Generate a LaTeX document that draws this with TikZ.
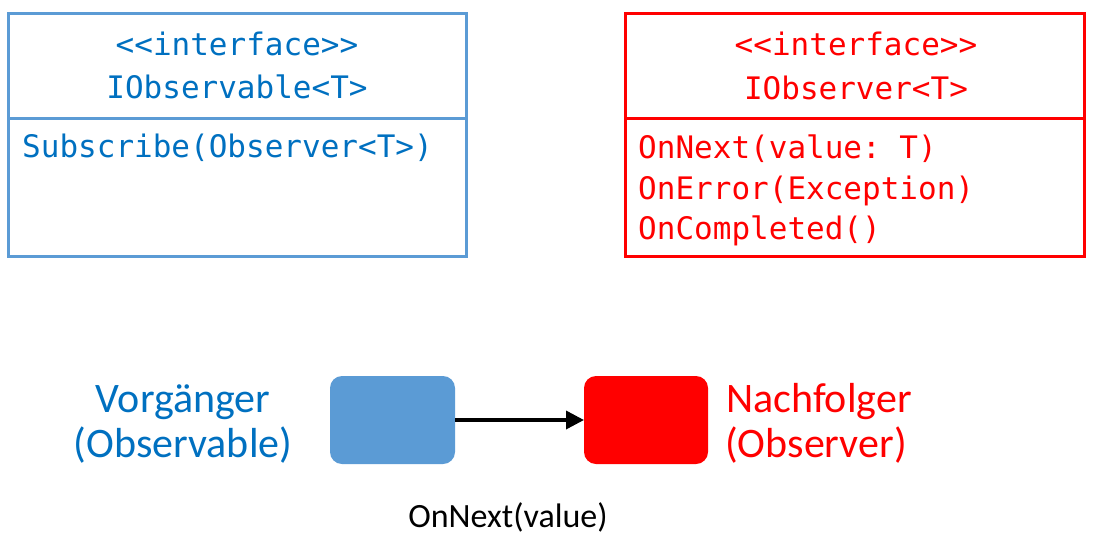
\documentclass[tikz,border=0pt]{standalone}
\usepackage{fontspec}
\setmainfont{Carlito}
\setmonofont{DejaVu Sans Mono}
\usetikzlibrary{arrows.meta}
\definecolor{obsline}{HTML}{5B9BD5}
\definecolor{obstext}{HTML}{0070C0}
\definecolor{obsred}{HTML}{FF0000}

\begin{document}
\begin{tikzpicture}[x=1pt,y=-1pt,
  code/.style={font=\ttfamily\fontsize{31}{36}\selectfont,inner sep=0},
  word/.style={font=\fontsize{42}{48}\selectfont,inner sep=0},
  block/.style={rounded corners=12pt,inner sep=0,outer sep=0,minimum height=88pt}]
\useasboundingbox (0,0) rectangle (1098,536);
% IObservable
\draw[obsline,line width=3pt] (8,13) rectangle (466,256);
\draw[obsline,line width=3pt] (8,118) -- (466,118);
\draw (237,55) node[code,anchor=base,text=obstext] (stereoL) {<<interface>>};
\draw (237,98) node[code,anchor=base,text=obstext] (nameL) {IObservable<T>};
\draw (22,157) node[code,anchor=base west,text=obstext] (subscr) {Subscribe(Observer<T>)};
% IObserver
\draw[obsred,line width=3pt] (625,13) rectangle (1084,256);
\draw[obsred,line width=3pt] (625,118) -- (1084,118);
\draw (856,55) node[code,anchor=base,text=obsred] (stereoR) {<<interface>>};
\draw (856,99) node[code,anchor=base,text=obsred] (nameR) {IObserver<T>};
\draw (638,158) node[code,anchor=base west,text=obsred] (onnext) {OnNext(value: T)};
\draw (638,199) node[code,anchor=base west,text=obsred] (onerror) {OnError(Exception)};
\draw (638,239) node[code,anchor=base west,text=obsred] (oncompl) {OnCompleted()};
% Vorgaenger -> Nachfolger
\node[block,fill=obsline,minimum width=125pt] (pred) at (392.5,420) {};
\node[block,fill=obsred,minimum width=124pt] (succ) at (646,420) {};
\draw[line width=3.5pt,-{Triangle[length=18pt,width=18pt]}] (pred) -- (succ);
\draw (183,412) node[word,anchor=base,text=obstext] (predA) {Vorgänger};
\draw (183,457) node[word,anchor=base,text=obstext] (predB) {(Observable)};
\draw (726,412) node[word,anchor=base west,text=obsred] (succA) {Nachfolger};
\draw (725,457) node[word,anchor=base west,text=obsred] (succB) {(Observer)};
\draw (508,527) node[font=\fontsize{34}{40}\selectfont,anchor=base,inner sep=0] (msg) {OnNext(value)};
\end{tikzpicture}
\end{document}
